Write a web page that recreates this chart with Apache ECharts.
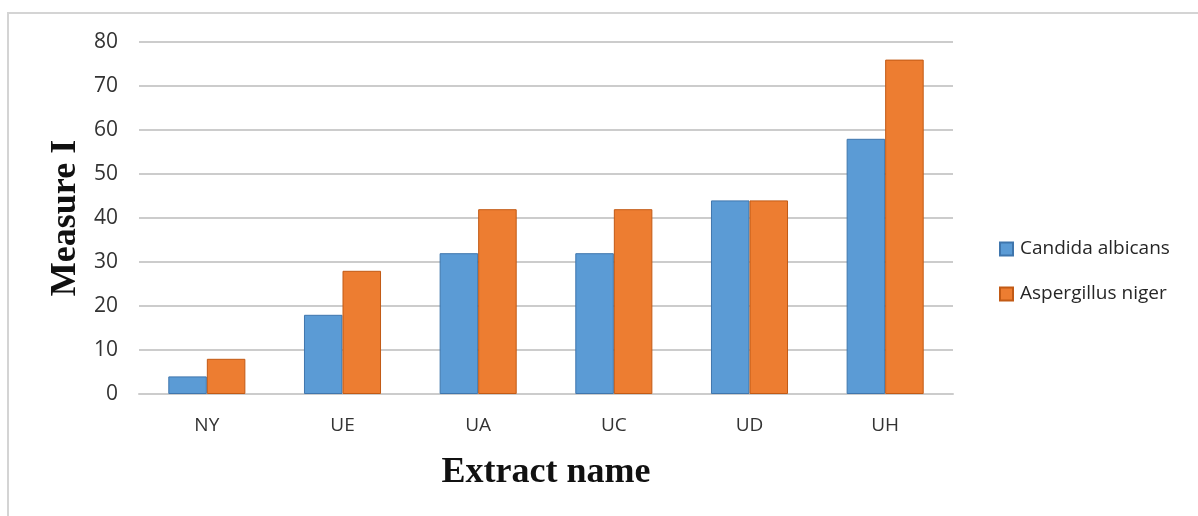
<!DOCTYPE html>
<html>
<head>
<meta charset="utf-8">
<script src="https://cdn.jsdelivr.net/npm/echarts@6/dist/echarts.min.js"></script>
<style>
  html, body { margin: 0; padding: 0; background: #fff; }
  #chart { width: 1198px; height: 516px; }
</style>
</head>
<body>
<div id="chart"></div>
<script>
// Extracts and their measured values for the two fungi
const extracts = ['NY', 'UE', 'UA', 'UC', 'UD', 'UH'];
const candidaAlbicans = [4, 18, 32, 32, 44, 58];
const aspergillusNiger = [8, 28, 42, 42, 44, 76];
const yTicks = { min: 0, max: 80, step: 10 };

const chart = echarts.init(document.getElementById('chart'), null, { renderer: 'canvas' });

const labelFont = '"Open Sans", "Liberation Sans", sans-serif';
const titleFont = '"Liberation Serif", "DejaVu Serif", serif';

chart.setOption({
  backgroundColor: '#ffffff',
  animation: false,
  graphic: [{
    type: 'rect',
    shape: { x: 8, y: 13, width: 1400, height: 700 },
    style: { fill: 'none', stroke: '#d4d4d4', lineWidth: 2 },
    silent: true
  }],
  grid: { left: 139, right: 245, top: 42, bottom: 122 },
  legend: {
    orient: 'vertical',
    left: 994,
    top: 234,
    itemWidth: 13,
    itemHeight: 13,
    itemGap: 25,
    icon: 'rect',
    textStyle: { fontFamily: labelFont, fontSize: 19, color: '#262626', lineHeight: 20, padding: [0, 0, 0, 2] },
    data: ['Candida albicans', 'Aspergillus niger']
  },
  xAxis: {
    type: 'category',
    data: extracts,
    name: 'Extract name',
    nameLocation: 'middle',
    nameGap: 61,
    nameMoveOverlap: false,
    nameTextStyle: { fontFamily: titleFont, fontWeight: 'bold', fontSize: 36, color: '#111' },
    axisLine: { show: true, lineStyle: { color: '#cccccc', width: 2 } },
    axisTick: { show: false },
    axisLabel: { fontFamily: labelFont, fontSize: 19, color: '#333', margin: 22 }
  },
  yAxis: {
    type: 'value',
    min: yTicks.min,
    max: yTicks.max,
    interval: yTicks.step,
    name: 'Measure I',
    nameLocation: 'middle',
    nameGap: 55,
    nameRotate: 90,
    nameMoveOverlap: false,
    nameTextStyle: { fontFamily: titleFont, fontWeight: 'bold', fontSize: 36, color: '#111' },
    axisLine: { show: false },
    axisTick: { show: false },
    axisLabel: { fontFamily: labelFont, fontSize: 21, color: '#333', margin: 21 },
    splitLine: { lineStyle: { color: '#cccccc', width: 2 } }
  },
  series: [
    {
      name: 'Candida albicans',
      type: 'bar',
      data: candidaAlbicans,
      barWidth: '28.4%',
      barGap: '0%',
      itemStyle: { color: '#5b9bd5', borderColor: '#3f76ad', borderWidth: 1 }
    },
    {
      name: 'Aspergillus niger',
      type: 'bar',
      data: aspergillusNiger,
      barWidth: '28.4%',
      barGap: '0%',
      itemStyle: { color: '#ed7d31', borderColor: '#c25a15', borderWidth: 1 }
    }
  ]
});
</script>
</body>
</html>
